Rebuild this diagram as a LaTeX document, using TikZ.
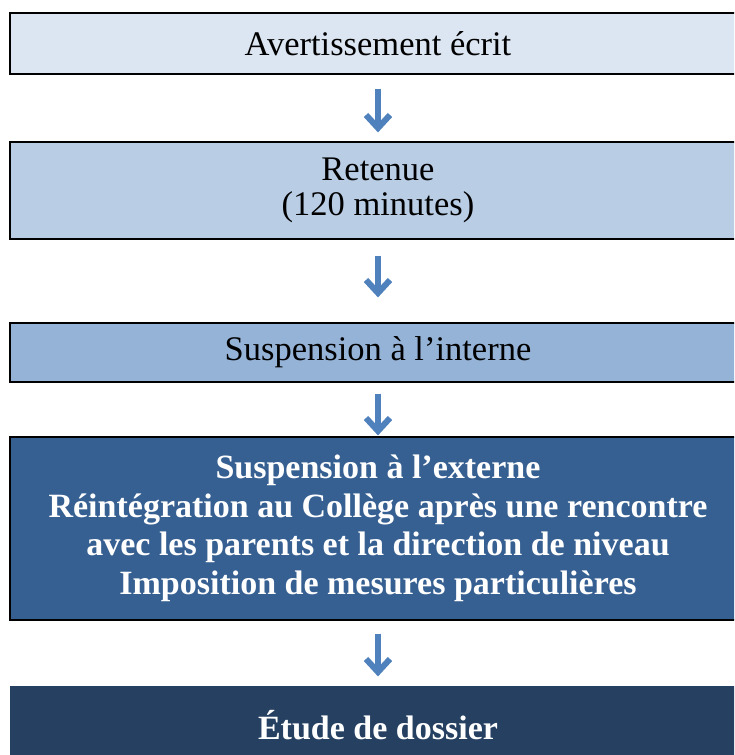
\documentclass[tikz,border=0pt]{standalone}
\usepackage{fontspec}
\setmainfont{Liberation Serif}
\usetikzlibrary{arrows.meta}

\definecolor{lvlA}{HTML}{DCE6F2}
\definecolor{lvlB}{HTML}{B9CDE5}
\definecolor{lvlC}{HTML}{95B3D7}
\definecolor{lvlD}{HTML}{376092}
\definecolor{lvlE}{HTML}{254061}
\definecolor{arrblue}{HTML}{4F81BD}

\tikzset{
  stage/.style={draw=black,line width=1.2pt,minimum width=736pt,inner sep=0pt,align=center,
    font=\fontsize{34.5}{35}\selectfont},
  hardstage/.style={stage,text=white,font=\fontsize{34}{38.5}\selectfont\bfseries},
  down/.style={draw=arrblue,line width=6pt,-{Straight Barb[length=13pt,width=24pt]}}
}

\begin{document}
\begin{tikzpicture}[x=1pt,y=-1pt]
\useasboundingbox (0,0) rectangle (734,755);
\clip (0,0) rectangle (734,755);
\node[stage,fill=lvlA,minimum height=61pt] (avert) at (378,43.5) {Avertissement écrit};
\node[stage,fill=lvlB,minimum height=97pt] (retenue) at (378,190.5) {Retenue\\(120 minutes)};
\node[stage,fill=lvlC,minimum height=59pt] (interne) at (378,352.5) {Suspension à l’interne};
\node[hardstage,fill=lvlD,minimum height=183pt] (externe) at (378,528.5)
  {Suspension à l’externe\\Réintégration au Collège après une rencontre\\avec les parents et la direction de niveau\\Imposition de mesures particulières};
\node[hardstage,draw=none,fill=lvlE,minimum height=78pt] (dossier) at (378,725) {Étude de dossier};
\draw[down,shorten <=14pt,shorten >=9pt] (avert.south) -- (retenue.north);
\draw[down,shorten <=16pt,shorten >=25pt] (retenue.south) -- (interne.north);
\draw[down,shorten <=11pt,shorten >=1pt] (interne.south) -- (externe.north);
\draw[down,shorten <=13pt,shorten >=9pt] (externe.south) -- (dossier.north);
\end{tikzpicture}
\end{document}
